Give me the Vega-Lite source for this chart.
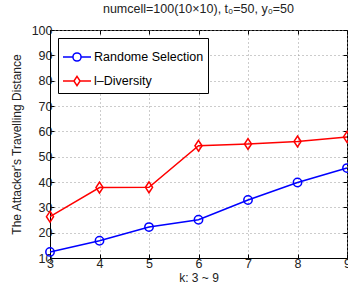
{
  "$schema": "https://vega.github.io/schema/vega-lite/v6.json",
  "width": 297,
  "height": 228,
  "autosize": "none",
  "padding": {"left": 50, "top": 30, "right": 1, "bottom": 35},
  "background": "white",
  "config": {
    "font": "Liberation Sans",
    "view": {"stroke": "black", "strokeWidth": 1},
    "axis": {
      "labelFont": "Liberation Sans",
      "titleFont": "Liberation Sans",
      "labelFontSize": 12.5,
      "titleFontSize": 12,
      "titleFontWeight": "normal",
      "labelColor": "#222",
      "titleColor": "#222",
      "domainColor": "black",
      "tickColor": "black",
      "tickSize": -4,
      "gridColor": "#999",
      "gridDash": [1, 3],
      "gridWidth": 1
    }
  },
  "title": {
    "text": "numcell=100(10×10), t₀=50, y₀=50",
    "fontSize": 12.5,
    "fontWeight": "normal",
    "font": "Liberation Sans",
    "color": "#222",
    "offset": 9
  },
  "data": {
    "values": [
      {"k": 3, "dist": 12.4, "method": "Randome Selection"},
      {"k": 4, "dist": 16.8, "method": "Randome Selection"},
      {"k": 5, "dist": 22.2, "method": "Randome Selection"},
      {"k": 6, "dist": 25.1, "method": "Randome Selection"},
      {"k": 7, "dist": 32.9, "method": "Randome Selection"},
      {"k": 8, "dist": 39.8, "method": "Randome Selection"},
      {"k": 9, "dist": 45.5, "method": "Randome Selection"},
      {"k": 3, "dist": 26.3, "method": "l–Diversity"},
      {"k": 4, "dist": 37.8, "method": "l–Diversity"},
      {"k": 5, "dist": 37.9, "method": "l–Diversity"},
      {"k": 6, "dist": 54.3, "method": "l–Diversity"},
      {"k": 7, "dist": 55.0, "method": "l–Diversity"},
      {"k": 8, "dist": 56.0, "method": "l–Diversity"},
      {"k": 9, "dist": 57.8, "method": "l–Diversity"}
    ]
  },
  "resolve": {"axis": {"x": "independent", "y": "independent"}},
  "layer": [
    {
      "mark": {"type": "line", "strokeWidth": 1.5},
      "encoding": {
        "x": {
          "field": "k",
          "type": "quantitative",
          "scale": {"domain": [3, 9], "nice": false, "zero": false},
          "axis": {"values": [3, 4, 5, 6, 7, 8, 9], "title": "k: 3 ~ 9", "labelPadding": 3, "titlePadding": 3, "labelFlush": false}
        },
        "y": {
          "field": "dist",
          "type": "quantitative",
          "scale": {"domain": [10, 100], "nice": false, "zero": false},
          "axis": {"values": [10, 20, 30, 40, 50, 60, 70, 80, 90, 100], "title": "The Attacker's Travelling Distance", "labelPadding": 2, "titlePadding": 8}
        },
        "color": {
          "field": "method",
          "type": "nominal",
          "scale": {"domain": ["Randome Selection", "l–Diversity"], "range": ["#0000ff", "#ff0000"]},
          "legend": {
            "orient": "top-left",
            "title": null,
            "offset": 8,
            "strokeColor": "black",
            "fillColor": "white",
            "padding": 4,
            "labelFont": "Liberation Sans",
            "labelFontSize": 12.5,
            "labelColor": "black",
            "symbolSize": 784,
            "symbolStrokeWidth": 1.5,
            "symbolFillColor": "transparent",
            "rowPadding": 1,
            "labelOffset": 2,
            "encode": {
              "symbols": {
                "update": {
                  "shape": {"signal": "datum.value === 'Randome Selection' ? 'M-1,0H-0.29M0.29,0H1M0.29,0A0.29,0.29 0 1,1 -0.29,0A0.29,0.29 0 1,1 0.29,0' : 'M-1,0H-0.22M0.22,0H1M0,-0.33L0.22,0L0,0.33L-0.22,0Z'"},
                  "fill": {"value": "transparent"},
                  "strokeWidth": {"value": 1.5}
                }
              }
            }
          }
        }
      }
    },
    {
      "mark": {"type": "point", "filled": false, "strokeWidth": 1.5, "opacity": 1},
      "encoding": {
        "x": {
          "field": "k",
          "type": "quantitative",
          "axis": {"orient": "top", "values": [3, 4, 5, 6, 7, 8, 9], "labels": false, "title": null, "grid": false, "domain": false}
        },
        "y": {
          "field": "dist",
          "type": "quantitative",
          "axis": {"orient": "right", "values": [10, 20, 30, 40, 50, 60, 70, 80, 90, 100], "labels": false, "title": null, "grid": false, "domain": false}
        },
        "color": {"field": "method", "type": "nominal"},
        "shape": {
          "condition": {"test": "datum.method === 'l–Diversity'", "value": "M0,-1.3L0.85,0L0,1.3L-0.85,0Z"},
          "value": "circle"
        },
        "size": {"value": 70}
      }
    }
  ]
}
